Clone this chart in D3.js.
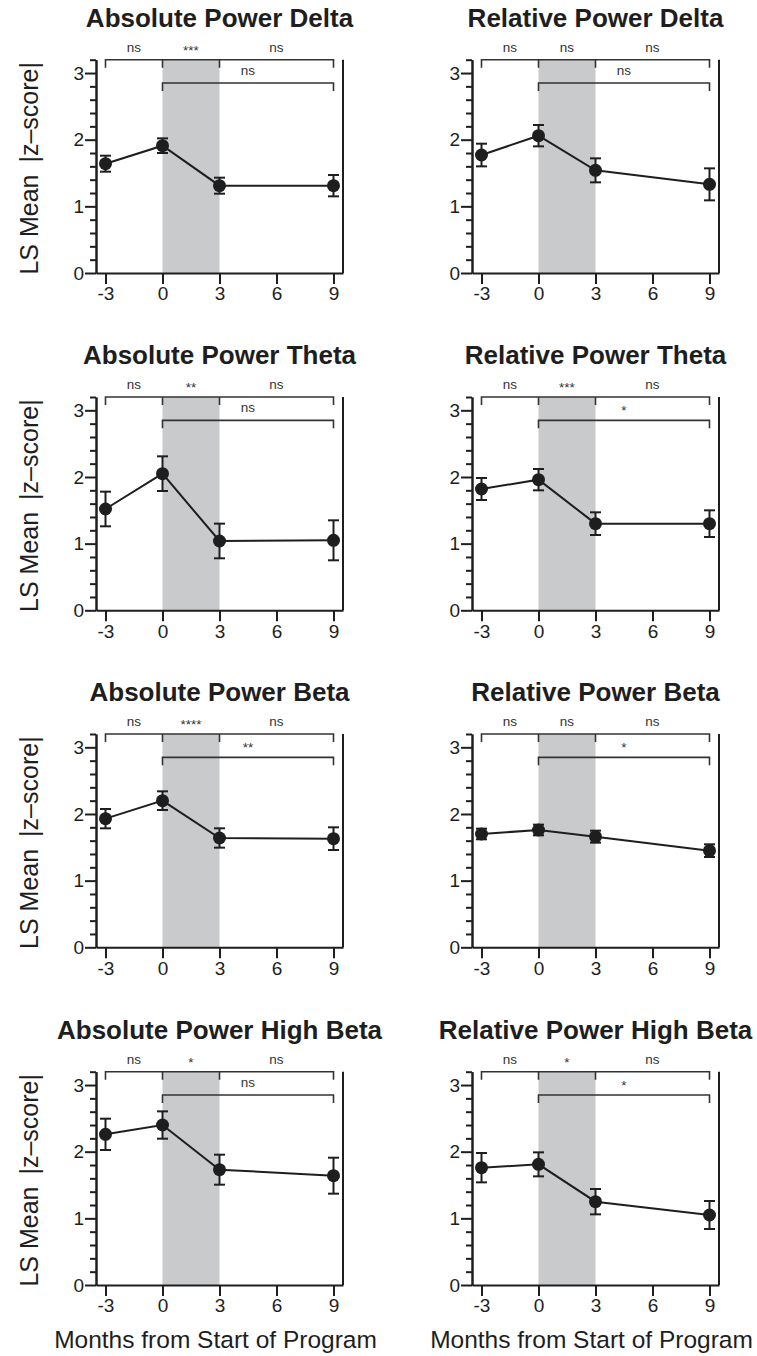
<!DOCTYPE html>
<html>
<head>
<meta charset="utf-8">
<style>
    body { margin: 0; background: #fff; }
    svg { display: block; }
    text { font-family: "Liberation Sans", Arial, Helvetica, sans-serif; fill: #1e1e1e; }
    .title { font-size: 26px; font-weight: bold; }
    .ylab { font-size: 25px; }
    .xlab { font-size: 24.5px; }
    .axis text { font-size: 19px; fill: #1e1e1e; }
    .axis path, .axis line { stroke: #1e1e1e; stroke-width: 2px; }
    .sig { font-size: 13.5px; fill: #333; }
    .bracket { fill: none; stroke: #333; stroke-width: 1.6px; }
</style>
</head>
<body>
<div id="chart"></div>
<script src="https://d3js.org/d3.v7.min.js"></script>
<script>
    // time points (months) and x tick labels
    var months = [-3, 0, 3, 9];
    var monthTicks = [-3, 0, 3, 6, 9];
    var yTicks = [0, 1, 2, 3];

    var titles = ["Absolute Power Delta", "Relative Power Delta",
                  "Absolute Power Theta", "Relative Power Theta",
                  "Absolute Power Beta", "Relative Power Beta",
                  "Absolute Power High Beta", "Relative Power High Beta"];

    // LS means and error bars
    var absDelta = [1.64, 1.91, 1.31, 1.31],    absDeltaErr = [0.12, 0.11, 0.12, 0.16];
    var relDelta = [1.77, 2.06, 1.54, 1.33],    relDeltaErr = [0.17, 0.16, 0.18, 0.24];
    var absTheta = [1.52, 2.05, 1.04, 1.05],    absThetaErr = [0.26, 0.26, 0.26, 0.30];
    var relTheta = [1.82, 1.96, 1.30, 1.30],    relThetaErr = [0.165, 0.16, 0.17, 0.20];
    var absBeta = [1.93, 2.20, 1.64, 1.63],     absBetaErr = [0.145, 0.14, 0.145, 0.17];
    var relBeta = [1.70, 1.76, 1.66, 1.45],     relBetaErr = [0.08, 0.08, 0.09, 0.095];
    var absHiBeta = [2.26, 2.40, 1.73, 1.64],   absHiBetaErr = [0.235, 0.205, 0.225, 0.27];
    var relHiBeta = [1.76, 1.81, 1.25, 1.05],   relHiBetaErr = [0.22, 0.18, 0.19, 0.21];

    // significance: [-3 vs 0, 0 vs 3, 3 vs 9] and 0 vs 9
    var sigRow1 = [["ns","***","ns"], ["ns","ns","ns"], ["ns","**","ns"], ["ns","***","ns"],
                   ["ns","****","ns"], ["ns","ns","ns"], ["ns","*","ns"], ["ns","*","ns"]];
    var sigRow2 = ["ns", "ns", "ns", "*", "**", "*", "ns", "*"];

    var means = [absDelta, relDelta, absTheta, relTheta, absBeta, relBeta, absHiBeta, relHiBeta];
    var errs = [absDeltaErr, relDeltaErr, absThetaErr, relThetaErr, absBetaErr, relBetaErr, absHiBetaErr, relHiBetaErr];

    var width = 757, height = 1356;
    var colX = [96, 472];
    var rowTop = [59.7, 397, 734, 1071.7];
    var plotW = 247, plotH = 213.3;

    var svg = d3.select("#chart").append("svg")
        .attr("width", width)
        .attr("height", height);

    var x = d3.scaleLinear().domain([-3.5, 9.5]).range([0, plotW]);
    var y = d3.scaleLinear().domain([0, 3.2]).range([plotH, 0]);

    titles.forEach(function(title, i) {
        var col = i % 2, row = Math.floor(i / 2);
        var g = svg.append("g")
            .attr("transform", "translate(" + colX[col] + "," + rowTop[row] + ")");

        var data = months.map(function(m, j) {
            return {m: m, v: means[i][j], e: errs[i][j]};
        });

        // shaded program window (0 to 3 months)
        g.append("rect")
            .attr("x", x(0))
            .attr("y", 0)
            .attr("width", x(3) - x(0))
            .attr("height", plotH)
            .attr("fill", "#c9cacc");

        // right frame line
        g.append("line")
            .attr("x1", x(9.5)).attr("x2", x(9.5))
            .attr("y1", 0).attr("y2", plotH)
            .attr("stroke", "#1e1e1e")
            .attr("stroke-width", 2);

        // minor y ticks
        g.append("g")
            .attr("class", "axis")
            .call(d3.axisLeft(y)
                .tickValues(d3.range(1, 17).map(function(k) { return k * 0.2; }).filter(function(v) { return Math.abs(v - Math.round(v)) > 0.01; }))
                .tickSize(6)
                .tickSizeOuter(0)
                .tickFormat(""));

        g.append("g")
            .attr("class", "axis")
            .call(d3.axisLeft(y)
                .tickValues(yTicks)
                .tickSize(11)
                .tickSizeOuter(0)
                .tickPadding(1)
                .tickFormat(d3.format("d")));

        g.append("g")
            .attr("class", "axis")
            .attr("transform", "translate(0," + plotH + ")")
            .call(d3.axisBottom(x)
                .tickValues(monthTicks)
                .tickSize(11)
                .tickSizeOuter(0)
                .tickPadding(3)
                .tickFormat(function(d) { return String(d); }));

        // line + error bars + points
        var line = d3.line()
            .x(function(d) { return x(d.m); })
            .y(function(d) { return y(d.v); });

        g.append("path")
            .datum(data)
            .attr("d", line)
            .attr("fill", "none")
            .attr("stroke", "#1e1e1e")
            .attr("stroke-width", 2);

        var eb = g.selectAll(".err").data(data).enter().append("g").attr("class", "err")
            .attr("stroke", "#1e1e1e").attr("stroke-width", 2);
        eb.append("line")
            .attr("x1", function(d) { return x(d.m); })
            .attr("x2", function(d) { return x(d.m); })
            .attr("y1", function(d) { return y(d.v + d.e); })
            .attr("y2", function(d) { return y(d.v - d.e); });
        eb.append("line")
            .attr("x1", function(d) { return x(d.m) - 5.5; })
            .attr("x2", function(d) { return x(d.m) + 5.5; })
            .attr("y1", function(d) { return y(d.v + d.e); })
            .attr("y2", function(d) { return y(d.v + d.e); });
        eb.append("line")
            .attr("x1", function(d) { return x(d.m) - 5.5; })
            .attr("x2", function(d) { return x(d.m) + 5.5; })
            .attr("y1", function(d) { return y(d.v - d.e); })
            .attr("y2", function(d) { return y(d.v - d.e); });

        g.selectAll(".dot").data(data).enter().append("circle")
            .attr("cx", function(d) { return x(d.m); })
            .attr("cy", function(d) { return y(d.v); })
            .attr("r", 6.5)
            .attr("fill", "#1e1e1e");

        // significance brackets
        var b1 = y(3.2), b2 = y(2.85), tk = 8;
        g.append("path")
            .attr("class", "bracket")
            .attr("d", "M" + x(-3) + "," + (b1 + tk) + "V" + b1 + "H" + x(9) + "V" + (b1 + tk) +
                       "M" + x(0) + "," + b1 + "V" + (b1 + tk) +
                       "M" + x(3) + "," + b1 + "V" + (b1 + tk));
        g.append("path")
            .attr("class", "bracket")
            .attr("d", "M" + x(0) + "," + (b2 + tk) + "V" + b2 + "H" + x(9) + "V" + (b2 + tk));

        var mids = [-1.5, 1.5, 6];
        sigRow1[i].forEach(function(s, k) {
            g.append("text")
                .attr("class", "sig")
                .attr("x", x(mids[k]))
                .attr("y", b1 - 8 + (s.charAt(0) === "*" ? 3 : 0))
                .attr("text-anchor", "middle")
                .text(s);
        });
        g.append("text")
            .attr("class", "sig")
            .attr("x", x(4.5))
            .attr("y", b2 - 8 + (sigRow2[i].charAt(0) === "*" ? 3 : 0))
            .attr("text-anchor", "middle")
            .text(sigRow2[i]);

        // panel title
        g.append("text")
            .attr("class", "title")
            .attr("x", plotW / 2)
            .attr("y", -33)
            .attr("text-anchor", "middle")
            .text(title);

        if (col === 0) {
            g.append("text")
                .attr("class", "ylab")
                .attr("xml:space", "preserve")
                .attr("transform", "translate(-58," + (plotH / 2 + 2) + ") rotate(-90)")
                .attr("text-anchor", "middle")
                .text("LS Mean \u2009|z\u2013score|");
        }
        if (row === 3) {
            g.append("text")
                .attr("class", "xlab")
                .attr("x", plotW / 2 - 4)
                .attr("y", plotH + 63)
                .attr("text-anchor", "middle")
                .text("Months from Start of Program");
        }
    });
</script>
</body>
</html>
